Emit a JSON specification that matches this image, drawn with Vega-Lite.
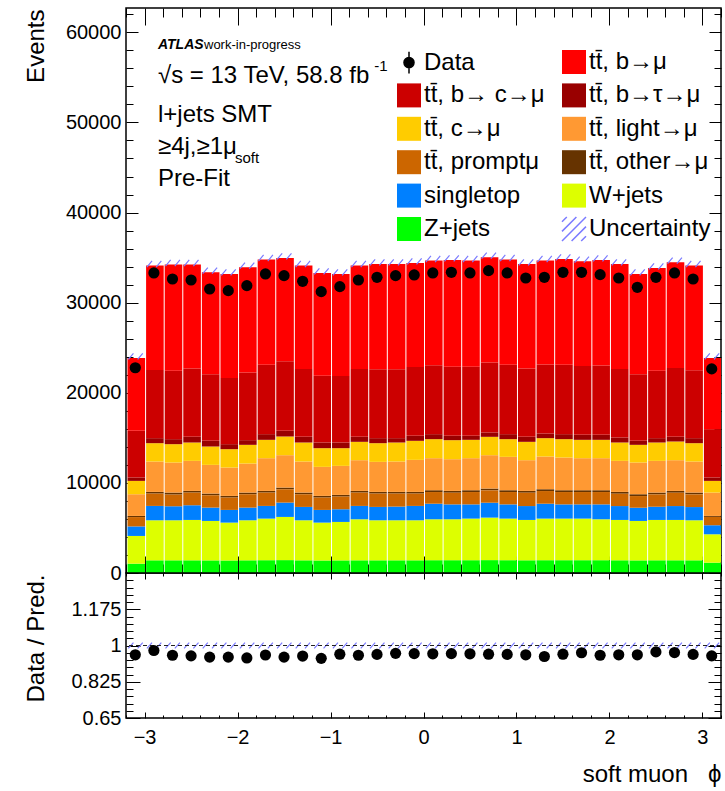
{
  "$schema": "https://vega.github.io/schema/vega-lite/v6.json",
  "autosize": {"type": "pad"},
  "padding": {"left": 23, "top": 3, "right": 5, "bottom": 8},
  "background": "white",
  "spacing": 0,
  "bounds": "flush",
  "config": {
    "font": "Liberation Sans",
    "view": {"stroke": "black", "strokeWidth": 1.5},
    "concat": {"spacing": 0},
    "axis": {"grid": false, "domain": false, "ticks": true, "tickColor": "black", "tickWidth": 1, "labelFont": "Liberation Sans", "labelFontSize": 20, "labelColor": "black", "labelFlush": false, "labelOverlap": false, "labelBound": false, "titleFont": "Liberation Sans", "titleFontWeight": "normal", "titleColor": "black", "titlePadding": 0},
    "legend": {"orient": "none", "legendX": 270, "legendY": 41, "columns": 2, "padding": 0, "symbolSize": 576, "symbolStrokeWidth": 1.5, "labelFont": "Liberation Sans", "labelFontSize": 24, "labelColor": "black", "labelOffset": 2, "labelLimit": 400, "rowPadding": 3.4, "columnPadding": 14}
  },
  "datasets": {
    "bins": [
      {"lo": -3.2, "hi": -3, "phi": -3.1, "z": 1037, "w": 3074, "st": 1059, "o": 126, "p": 1037, "l": 2407, "c": 1482, "bt": 378, "bc": 5178, "b": 8072, "pred": 23850, "data": 22780, "ratio": 0.955},
      {"lo": -3, "hi": -2.8, "phi": -2.9, "z": 1407, "w": 4444, "st": 1593, "o": 185, "p": 1370, "l": 3371, "c": 2037, "bt": 556, "bc": 7557, "b": 11591, "pred": 34111, "data": 33296, "ratio": 0.976},
      {"lo": -2.8, "hi": -2.6, "phi": -2.7, "z": 1407, "w": 4444, "st": 1556, "o": 222, "p": 1296, "l": 3334, "c": 2037, "bt": 556, "bc": 7598, "b": 11772, "pred": 34222, "data": 32630, "ratio": 0.953},
      {"lo": -2.6, "hi": -2.4, "phi": -2.5, "z": 1407, "w": 4481, "st": 1630, "o": 185, "p": 1408, "l": 3333, "c": 2037, "bt": 630, "bc": 7589, "b": 11522, "pred": 34222, "data": 32518, "ratio": 0.950},
      {"lo": -2.4, "hi": -2.2, "phi": -2.3, "z": 1400, "w": 4377, "st": 1482, "o": 185, "p": 1370, "l": 3186, "c": 2037, "bt": 630, "bc": 7383, "b": 11320, "pred": 33370, "data": 31518, "ratio": 0.944},
      {"lo": -2.2, "hi": -2, "phi": -2.1, "z": 1390, "w": 4202, "st": 1408, "o": 185, "p": 1370, "l": 3148, "c": 2038, "bt": 555, "bc": 7354, "b": 11535, "pred": 33185, "data": 31333, "ratio": 0.944},
      {"lo": -2, "hi": -1.8, "phi": -1.9, "z": 1407, "w": 4444, "st": 1408, "o": 185, "p": 1481, "l": 3223, "c": 2074, "bt": 519, "bc": 7509, "b": 11675, "pred": 33925, "data": 31888, "ratio": 0.940},
      {"lo": -1.8, "hi": -1.6, "phi": -1.7, "z": 1420, "w": 4616, "st": 1408, "o": 185, "p": 1482, "l": 3630, "c": 2037, "bt": 629, "bc": 7693, "b": 11677, "pred": 34777, "data": 33185, "ratio": 0.954},
      {"lo": -1.6, "hi": -1.4, "phi": -1.5, "z": 1430, "w": 4792, "st": 1592, "o": 186, "p": 1481, "l": 3593, "c": 2074, "bt": 630, "bc": 7722, "b": 11463, "pred": 34963, "data": 33000, "ratio": 0.944},
      {"lo": -1.4, "hi": -1.2, "phi": -1.3, "z": 1407, "w": 4444, "st": 1482, "o": 185, "p": 1407, "l": 3445, "c": 2111, "bt": 630, "bc": 7539, "b": 11461, "pred": 34111, "data": 32370, "ratio": 0.949},
      {"lo": -1.2, "hi": -1, "phi": -1.1, "z": 1390, "w": 4202, "st": 1408, "o": 185, "p": 1370, "l": 3223, "c": 2074, "bt": 629, "bc": 7419, "b": 11396, "pred": 33296, "data": 31222, "ratio": 0.938},
      {"lo": -1, "hi": -0.8, "phi": -0.9, "z": 1400, "w": 4266, "st": 1408, "o": 185, "p": 1407, "l": 3223, "c": 1963, "bt": 629, "bc": 7369, "b": 11335, "pred": 33185, "data": 31777, "ratio": 0.958},
      {"lo": -0.8, "hi": -0.6, "phi": -0.7, "z": 1407, "w": 4555, "st": 1482, "o": 185, "p": 1482, "l": 3407, "c": 2037, "bt": 556, "bc": 7539, "b": 11461, "pred": 34111, "data": 32518, "ratio": 0.953},
      {"lo": -0.6, "hi": -0.4, "phi": -0.5, "z": 1407, "w": 4444, "st": 1482, "o": 185, "p": 1481, "l": 3334, "c": 2074, "bt": 556, "bc": 7637, "b": 11696, "pred": 34296, "data": 32814, "ratio": 0.957},
      {"lo": -0.4, "hi": -0.2, "phi": -0.3, "z": 1407, "w": 4444, "st": 1519, "o": 185, "p": 1444, "l": 3371, "c": 2111, "bt": 482, "bc": 7637, "b": 11696, "pred": 34296, "data": 33000, "ratio": 0.962},
      {"lo": -0.2, "hi": 0, "phi": -0.1, "z": 1407, "w": 4444, "st": 1593, "o": 185, "p": 1370, "l": 3556, "c": 2112, "bt": 555, "bc": 7628, "b": 11557, "pred": 34407, "data": 33074, "ratio": 0.961},
      {"lo": 0, "hi": 0.2, "phi": 0.1, "z": 1420, "w": 4542, "st": 1727, "o": 200, "p": 1296, "l": 3556, "c": 2111, "bt": 555, "bc": 7643, "b": 11616, "pred": 34666, "data": 33296, "ratio": 0.960},
      {"lo": 0.2, "hi": 0.4, "phi": 0.3, "z": 1420, "w": 4542, "st": 1652, "o": 200, "p": 1297, "l": 3519, "c": 2111, "bt": 481, "bc": 7678, "b": 11840, "pred": 34740, "data": 33370, "ratio": 0.961},
      {"lo": 0.4, "hi": 0.6, "phi": 0.5, "z": 1420, "w": 4616, "st": 1578, "o": 200, "p": 1371, "l": 3556, "c": 2037, "bt": 444, "bc": 7678, "b": 11766, "pred": 34666, "data": 33296, "ratio": 0.960},
      {"lo": 0.6, "hi": 0.8, "phi": 0.7, "z": 1430, "w": 4717, "st": 1653, "o": 200, "p": 1370, "l": 3704, "c": 2037, "bt": 482, "bc": 7757, "b": 11687, "pred": 35037, "data": 33555, "ratio": 0.958},
      {"lo": 0.8, "hi": 1, "phi": 0.9, "z": 1420, "w": 4616, "st": 1578, "o": 200, "p": 1371, "l": 3704, "c": 1963, "bt": 555, "bc": 7693, "b": 11677, "pred": 34777, "data": 33296, "ratio": 0.957},
      {"lo": 1, "hi": 1.2, "phi": 1.1, "z": 1410, "w": 4478, "st": 1541, "o": 200, "p": 1482, "l": 3407, "c": 2037, "bt": 556, "bc": 7589, "b": 11596, "pred": 34296, "data": 32740, "ratio": 0.955},
      {"lo": 1.2, "hi": 1.4, "phi": 1.3, "z": 1420, "w": 4616, "st": 1653, "o": 200, "p": 1407, "l": 3630, "c": 2037, "bt": 518, "bc": 7669, "b": 11516, "pred": 34666, "data": 32814, "ratio": 0.947},
      {"lo": 1.4, "hi": 1.6, "phi": 1.5, "z": 1420, "w": 4616, "st": 1578, "o": 200, "p": 1371, "l": 3630, "c": 2037, "bt": 555, "bc": 7693, "b": 11751, "pred": 34851, "data": 33370, "ratio": 0.958},
      {"lo": 1.6, "hi": 1.8, "phi": 1.7, "z": 1420, "w": 4616, "st": 1578, "o": 200, "p": 1371, "l": 3556, "c": 2037, "bt": 555, "bc": 7647, "b": 11612, "pred": 34592, "data": 33370, "ratio": 0.965},
      {"lo": 1.8, "hi": 2, "phi": 1.9, "z": 1420, "w": 4542, "st": 1652, "o": 200, "p": 1371, "l": 3556, "c": 2037, "bt": 555, "bc": 7687, "b": 11720, "pred": 34740, "data": 33111, "ratio": 0.953},
      {"lo": 2, "hi": 2.2, "phi": 2.1, "z": 1410, "w": 4478, "st": 1541, "o": 200, "p": 1370, "l": 3445, "c": 2037, "bt": 556, "bc": 7613, "b": 11646, "pred": 34296, "data": 32740, "ratio": 0.955},
      {"lo": 2.2, "hi": 2.4, "phi": 2.3, "z": 1400, "w": 4377, "st": 1467, "o": 200, "p": 1296, "l": 3519, "c": 1963, "bt": 445, "bc": 7383, "b": 11135, "pred": 33185, "data": 31703, "ratio": 0.955},
      {"lo": 2.4, "hi": 2.6, "phi": 2.5, "z": 1410, "w": 4478, "st": 1467, "o": 200, "p": 1370, "l": 3519, "c": 2037, "bt": 482, "bc": 7487, "b": 11401, "pred": 33851, "data": 32814, "ratio": 0.969},
      {"lo": 2.6, "hi": 2.8, "phi": 2.7, "z": 1410, "w": 4478, "st": 1541, "o": 200, "p": 1482, "l": 3407, "c": 2074, "bt": 519, "bc": 7639, "b": 11731, "pred": 34481, "data": 33296, "ratio": 0.966},
      {"lo": 2.8, "hi": 3, "phi": 2.9, "z": 1407, "w": 4444, "st": 1467, "o": 200, "p": 1407, "l": 3445, "c": 2037, "bt": 556, "bc": 7537, "b": 11611, "pred": 34111, "data": 32630, "ratio": 0.957},
      {"lo": 3, "hi": 3.2, "phi": 3.1, "z": 1148, "w": 3148, "st": 1004, "o": 107, "p": 926, "l": 2593, "c": 1296, "bt": 378, "bc": 5363, "b": 7887, "pred": 23850, "data": 22650, "ratio": 0.950}
    ]
  },
  "vconcat": [
    {
      "width": 595,
      "height": 565,
      "data": {"name": "bins"},
      "resolve": {"axis": {"x": "independent", "y": "independent"}},
      "layer": [
        {
          "transform": [{"fold": ["z", "w", "st", "o", "p", "l", "c", "bt", "bc", "b"], "as": ["proc", "v"]}],
          "mark": {"type": "bar", "binSpacing": 0, "strokeWidth": 0, "x2Offset": 1, "clip": true},
          "encoding": {
            "x": {"field": "lo", "type": "quantitative", "bin": "binned", "scale": {"domain": [-3.2, 3.2], "nice": false, "zero": false},
              "axis": {"orient": "bottom", "title": null, "labels": false, "values": [-3.2, -3, -2.8, -2.6, -2.4, -2.2, -2, -1.8, -1.6, -1.4, -1.2, -1, -0.8, -0.6, -0.4, -0.2, 0, 0.2, 0.4, 0.6, 0.8, 1, 1.2, 1.4, 1.6, 1.8, 2, 2.2, 2.4, 2.6, 2.8, 3, 3.2],
                "tickSize": {"condition": {"test": "datum.value === round(datum.value)", "value": -17}, "value": -9}}},
            "x2": {"field": "hi"},
            "y": {"field": "v", "type": "quantitative", "stack": "zero", "scale": {"domain": [0, 62700], "nice": false},
              "axis": {"orient": "left", "title": "Events", "titleFontSize": 24, "titleAngle": -90, "titleAlign": "right", "titleBaseline": "middle", "titleX": -90, "titleY": 1,
                "values": [0, 2000, 4000, 6000, 8000, 10000, 12000, 14000, 16000, 18000, 20000, 22000, 24000, 26000, 28000, 30000, 32000, 34000, 36000, 38000, 40000, 42000, 44000, 46000, 48000, 50000, 52000, 54000, 56000, 58000, 60000, 62000],
                "labelExpr": "datum.value % 10000 === 0 ? format(datum.value, 'd') : ''", "labelPadding": 17,
                "tickSize": {"condition": {"test": "datum.value % 10000 === 0", "value": -12}, "value": -7}}},
            "color": {"field": "proc", "type": "nominal",
              "sort": ["Data", "b", "bc", "bt", "c", "l", "p", "o", "st", "w", "z", "Unc"],
              "scale": {"domain": ["Data", "bc", "c", "p", "st", "z", "b", "bt", "l", "o", "w", "Unc"],
                "range": ["black", "#cc0000", "#ffcc00", "#cc6600", "#0080ff", "#00ff00", "#ff0000", "#990000", "#ff9933", "#663300", "#ddff00", "white"]},
              "legend": {"title": null, "labelExpr": "datum.value === 'Data' ? 'Data' : datum.value === 'b' ? 'tt̄, b→μ' : datum.value === 'bc' ? 'tt̄, b→ c→μ' : datum.value === 'bt' ? 'tt̄, b→τ→μ' : datum.value === 'c' ? 'tt̄, c→μ' : datum.value === 'l' ? 'tt̄, light→μ' : datum.value === 'p' ? 'tt̄, promptμ' : datum.value === 'o' ? 'tt̄, other→μ' : datum.value === 'st' ? 'singletop' : datum.value === 'w' ? 'W+jets' : datum.value === 'z' ? 'Z+jets' : 'Uncertainty'"}}
          }
        },
        {
          "transform": [{"fold": ["z", "w", "st", "o", "p", "l", "c", "bt", "bc", "b"], "as": ["proc", "v"]}],
          "mark": {"type": "point", "filled": true, "size": 0, "strokeWidth": 1.5, "opacity": 1},
          "encoding": {
            "x": {"field": "phi", "type": "quantitative", "axis": null},
            "y": {"field": "v", "type": "quantitative", "axis": null},
            "color": {"field": "proc", "type": "nominal",
              "legend": {"title": null, "labelExpr": "datum.value === 'Data' ? 'Data' : datum.value === 'b' ? 'tt̄, b→μ' : datum.value === 'bc' ? 'tt̄, b→ c→μ' : datum.value === 'bt' ? 'tt̄, b→τ→μ' : datum.value === 'c' ? 'tt̄, c→μ' : datum.value === 'l' ? 'tt̄, light→μ' : datum.value === 'p' ? 'tt̄, promptμ' : datum.value === 'o' ? 'tt̄, other→μ' : datum.value === 'st' ? 'singletop' : datum.value === 'w' ? 'W+jets' : datum.value === 'z' ? 'Z+jets' : 'Uncertainty'"}},
            "shape": {"field": "proc", "type": "nominal",
              "scale": {"domain": ["Data", "bc", "c", "p", "st", "z", "b", "bt", "l", "o", "w", "Unc"],
                "range": ["M0,-0.9L0,0.9M-0.42,0A0.42,0.42 0 1,0 0.42,0A0.42,0.42 0 1,0 -0.42,0Z", "square", "square", "square", "square", "square", "square", "square", "square", "square", "square", "M-1,1L1,-1M-1,0.2L0.2,-1M-0.2,1L1,-0.2M-1,-0.6L-0.6,-1M0.6,1L1,0.6"]},
              "legend": {"title": null, "labelExpr": "datum.value === 'Data' ? 'Data' : datum.value === 'b' ? 'tt̄, b→μ' : datum.value === 'bc' ? 'tt̄, b→ c→μ' : datum.value === 'bt' ? 'tt̄, b→τ→μ' : datum.value === 'c' ? 'tt̄, c→μ' : datum.value === 'l' ? 'tt̄, light→μ' : datum.value === 'p' ? 'tt̄, promptμ' : datum.value === 'o' ? 'tt̄, other→μ' : datum.value === 'st' ? 'singletop' : datum.value === 'w' ? 'W+jets' : datum.value === 'z' ? 'Z+jets' : 'Uncertainty'"}},
            "stroke": {"field": "proc", "type": "nominal",
              "scale": {"domain": ["Data", "bc", "c", "p", "st", "z", "b", "bt", "l", "o", "w", "Unc"],
                "range": ["black", "transparent", "transparent", "transparent", "transparent", "transparent", "transparent", "transparent", "transparent", "transparent", "transparent", "#7b7bff"]},
              "legend": {"title": null, "labelExpr": "datum.value === 'Data' ? 'Data' : datum.value === 'b' ? 'tt̄, b→μ' : datum.value === 'bc' ? 'tt̄, b→ c→μ' : datum.value === 'bt' ? 'tt̄, b→τ→μ' : datum.value === 'c' ? 'tt̄, c→μ' : datum.value === 'l' ? 'tt̄, light→μ' : datum.value === 'p' ? 'tt̄, promptμ' : datum.value === 'o' ? 'tt̄, other→μ' : datum.value === 'st' ? 'singletop' : datum.value === 'w' ? 'W+jets' : datum.value === 'z' ? 'Z+jets' : 'Uncertainty'"}}
          }
        },
        {
          "mark": {"type": "point", "shape": "M-0.75,0.15L-0.2,-0.5M0.25,0.15L0.8,-0.5", "size": 346, "filled": false, "strokeWidth": 1.2, "color": "#7b7bff", "opacity": 1},
          "encoding": {
            "x": {"field": "phi", "type": "quantitative", "axis": null},
            "y": {"field": "pred", "type": "quantitative", "axis": null}
          }
        },
        {
          "mark": {"type": "circle", "size": 125, "color": "black", "opacity": 1},
          "encoding": {
            "x": {"field": "phi", "type": "quantitative",
              "axis": {"orient": "top", "title": null, "labels": false, "values": [-3.2, -3, -2.8, -2.6, -2.4, -2.2, -2, -1.8, -1.6, -1.4, -1.2, -1, -0.8, -0.6, -0.4, -0.2, 0, 0.2, 0.4, 0.6, 0.8, 1, 1.2, 1.4, 1.6, 1.8, 2, 2.2, 2.4, 2.6, 2.8, 3, 3.2],
                "tickSize": {"condition": {"test": "datum.value === round(datum.value)", "value": -17}, "value": -9}}},
            "y": {"field": "data", "type": "quantitative",
              "axis": {"orient": "right", "title": null, "labels": false,
                "values": [0, 2000, 4000, 6000, 8000, 10000, 12000, 14000, 16000, 18000, 20000, 22000, 24000, 26000, 28000, 30000, 32000, 34000, 36000, 38000, 40000, 42000, 44000, 46000, 48000, 50000, 52000, 54000, 56000, 58000, 60000, 62000],
                "tickSize": {"condition": {"test": "datum.value % 10000 === 0", "value": -12}, "value": -7}}}
          }
        },
        {
          "data": {"values": [{}]},
          "mark": {"type": "text", "text": "ATLAS", "font": "Liberation Sans", "fontSize": 14, "fontWeight": "bold", "fontStyle": "italic", "align": "left", "baseline": "middle", "color": "black"},
          "encoding": {"x": {"datum": -2.856, "type": "quantitative", "axis": null}, "y": {"datum": 58556, "type": "quantitative", "axis": null}}
        },
        {
          "data": {"values": [{}]},
          "mark": {"type": "text", "text": "work-in-progress", "font": "Liberation Sans", "fontSize": 13, "align": "left", "baseline": "middle", "color": "black"},
          "encoding": {"x": {"datum": -2.361, "type": "quantitative", "axis": null}, "y": {"datum": 58556, "type": "quantitative", "axis": null}}
        },
        {
          "data": {"values": [{}]},
          "mark": {"type": "text", "text": "√s = 13 TeV, 58.8 fb", "font": "Liberation Sans", "fontSize": 24, "align": "left", "baseline": "middle", "color": "black"},
          "encoding": {"x": {"datum": -2.856, "type": "quantitative", "axis": null}, "y": {"datum": 55111, "type": "quantitative", "axis": null}}
        },
        {
          "data": {"values": [{}]},
          "mark": {"type": "text", "text": "-1", "font": "Liberation Sans", "fontSize": 15, "align": "left", "baseline": "middle", "color": "black"},
          "encoding": {"x": {"datum": -0.53, "type": "quantitative", "axis": null}, "y": {"datum": 56222, "type": "quantitative", "axis": null}}
        },
        {
          "data": {"values": [{}]},
          "mark": {"type": "text", "text": "l+jets SMT", "font": "Liberation Sans", "fontSize": 24, "align": "left", "baseline": "middle", "color": "black"},
          "encoding": {"x": {"datum": -2.856, "type": "quantitative", "axis": null}, "y": {"datum": 50778, "type": "quantitative", "axis": null}}
        },
        {
          "data": {"values": [{}]},
          "mark": {"type": "text", "text": "≥4j,≥1μ", "font": "Liberation Sans", "fontSize": 24, "align": "left", "baseline": "middle", "color": "black"},
          "encoding": {"x": {"datum": -2.856, "type": "quantitative", "axis": null}, "y": {"datum": 47222, "type": "quantitative", "axis": null}}
        },
        {
          "data": {"values": [{}]},
          "mark": {"type": "text", "text": "soft", "font": "Liberation Sans", "fontSize": 15, "align": "left", "baseline": "middle", "color": "black"},
          "encoding": {"x": {"datum": -2.028, "type": "quantitative", "axis": null}, "y": {"datum": 46000, "type": "quantitative", "axis": null}}
        },
        {
          "data": {"values": [{}]},
          "mark": {"type": "text", "text": "Pre-Fit", "font": "Liberation Sans", "fontSize": 24, "align": "left", "baseline": "middle", "color": "black"},
          "encoding": {"x": {"datum": -2.856, "type": "quantitative", "axis": null}, "y": {"datum": 43778, "type": "quantitative", "axis": null}}
        }
      ]
    },
    {
      "width": 595,
      "height": 145,
      "data": {"name": "bins"},
      "resolve": {"axis": {"x": "independent", "y": "independent"}},
      "layer": [
        {
          "mark": {"type": "point", "shape": "M-0.75,0.3L-0.2,-0.3M0.25,0.3L0.8,-0.3", "size": 346, "filled": false, "strokeWidth": 1.2, "color": "#7b7bff", "opacity": 1},
          "encoding": {
            "x": {"field": "phi", "type": "quantitative", "scale": {"domain": [-3.2, 3.2], "nice": false, "zero": false},
              "axis": {"orient": "bottom", "title": "soft muon\u00a0\u00a0\u00a0ϕ", "titleFontSize": 24, "titleAnchor": "end", "titleAlign": "right", "titleBaseline": "middle", "titleX": 595, "titleY": 56,
                "values": [-3.2, -3, -2.8, -2.6, -2.4, -2.2, -2, -1.8, -1.6, -1.4, -1.2, -1, -0.8, -0.6, -0.4, -0.2, 0, 0.2, 0.4, 0.6, 0.8, 1, 1.2, 1.4, 1.6, 1.8, 2, 2.2, 2.4, 2.6, 2.8, 3, 3.2],
                "labelExpr": "datum.value === round(datum.value) ? format(datum.value, 'd') : ''", "labelPadding": 15,
                "tickSize": {"condition": {"test": "datum.value === round(datum.value)", "value": -6}, "value": -3}}},
            "y": {"datum": 1, "type": "quantitative", "scale": {"domain": [0.65, 1.35], "nice": false, "zero": false},
              "axis": {"orient": "left", "title": "Data / Pred.", "titleFontSize": 24, "titleAngle": -90, "titleAlign": "center", "titleBaseline": "middle", "titleX": -90, "titleY": 65,
                "values": [0.65, 0.685, 0.72, 0.755, 0.79, 0.825, 0.86, 0.895, 0.93, 0.965, 1, 1.035, 1.07, 1.105, 1.14, 1.175, 1.21, 1.245, 1.28, 1.315],
                "labelExpr": "datum.value === 0.65 ? '0.65' : datum.value === 0.825 ? '0.825' : datum.value === 1 ? '1' : datum.value === 1.175 ? '1.175' : ''", "labelPadding": 19,
                "tickSize": {"condition": {"test": "indexof([0.65, 0.825, 1, 1.175], datum.value) >= 0", "value": -14}, "value": -7}}}
          }
        },
        {
          "data": {"values": [{}]},
          "mark": {"type": "rule", "strokeDash": [4, 3], "color": "#222222", "strokeWidth": 1},
          "encoding": {"y": {"datum": 1, "type": "quantitative", "axis": null}}
        },
        {
          "mark": {"type": "circle", "size": 125, "color": "black", "opacity": 1},
          "encoding": {
            "x": {"field": "phi", "type": "quantitative",
              "axis": {"orient": "top", "title": null, "labels": false, "values": [-3.2, -3, -2.8, -2.6, -2.4, -2.2, -2, -1.8, -1.6, -1.4, -1.2, -1, -0.8, -0.6, -0.4, -0.2, 0, 0.2, 0.4, 0.6, 0.8, 1, 1.2, 1.4, 1.6, 1.8, 2, 2.2, 2.4, 2.6, 2.8, 3, 3.2],
                "tickSize": {"condition": {"test": "datum.value === round(datum.value)", "value": -6}, "value": -3}}},
            "y": {"field": "ratio", "type": "quantitative",
              "axis": {"orient": "right", "title": null, "labels": false,
                "values": [0.65, 0.685, 0.72, 0.755, 0.79, 0.825, 0.86, 0.895, 0.93, 0.965, 1, 1.035, 1.07, 1.105, 1.14, 1.175, 1.21, 1.245, 1.28, 1.315],
                "tickSize": {"condition": {"test": "indexof([0.65, 0.825, 1, 1.175], datum.value) >= 0", "value": -13}, "value": -7}}}
          }
        }
      ]
    }
  ]
}
